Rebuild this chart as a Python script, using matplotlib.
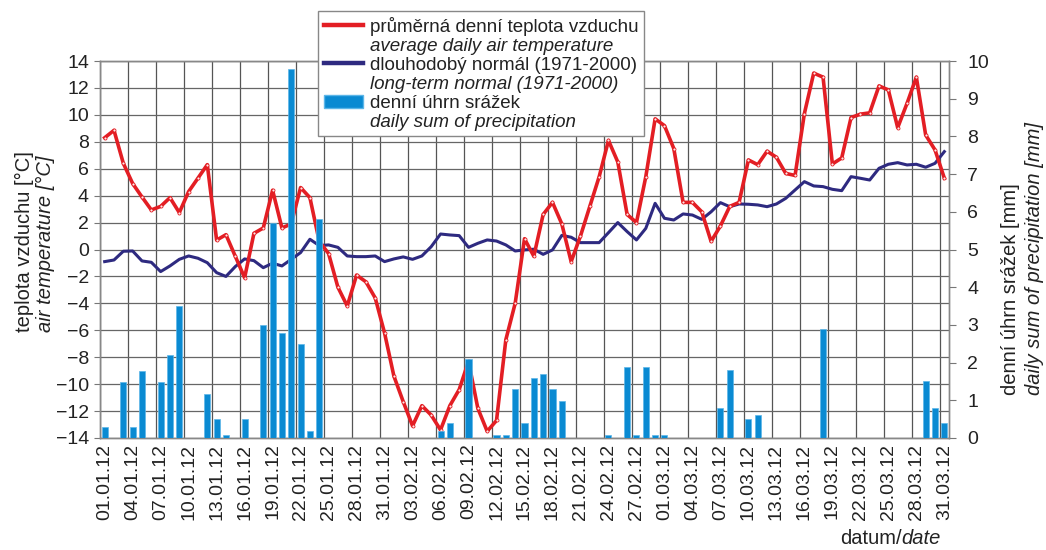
import numpy as np
import pandas as pd
import matplotlib
matplotlib.use("Agg")
import matplotlib.pyplot as plt
from matplotlib.lines import Line2D
from matplotlib.patches import Patch

# data (1.1.2012 - 31.3.2012)
dny = pd.date_range("2012-01-01", "2012-03-31", freq="D")

teplota = [8.3, 8.85, 6.4, 4.9, 3.9, 2.94, 3.2, 3.85, 2.74, 4.3,
           5.3, 6.3, 0.7, 1.1, -0.5, -2.1, 1.2, 1.6, 4.4, 1.6,
           1.9, 4.6, 3.85, 0.6, -0.3, -2.8, -4.2, -1.9, -2.4, -3.6,
           -6.2, -9.4, -11.3, -13.1, -11.6, -12.3, -13.4, -11.6, -10.4, -8.3,
           -11.8, -13.5, -12.7, -6.7, -4.0, 0.8, -0.5, 2.6, 3.5, 1.9,
           -0.9, 1.0, 3.2, 5.4, 8.1, 6.5, 2.6, 2.0, 5.4, 9.7,
           9.2, 7.5, 3.5, 3.5, 2.8, 0.6, 1.75, 3.2, 3.5, 6.65,
           6.3, 7.3, 6.85, 5.65, 5.5, 10.1, 13.1, 12.8, 6.35, 6.8,
           9.8, 10.05, 10.15, 12.15, 11.85, 9.05, 10.85, 12.8, 8.5, 7.4,
           5.3]

normal = [-0.9, -0.78, -0.13, -0.11, -0.85, -0.95, -1.64, -1.22, -0.73, -0.48,
          -0.65, -0.98, -1.72, -2.0, -1.27, -0.7, -0.83, -1.35, -1.02, -1.22,
          -0.73, -0.23, 0.76, 0.29, 0.34, 0.16, -0.48, -0.53, -0.53, -0.48,
          -0.9, -0.7, -0.55, -0.73, -0.48, 0.21, 1.15, 1.08, 1.03, 0.16,
          0.46, 0.71, 0.63, 0.34, -0.11, -0.03, 0.02, -0.36, -0.03, 1.05,
          0.91, 0.51, 0.51, 0.51, 1.25, 2.0, 1.33, 0.71, 1.57, 3.43,
          2.32, 2.19, 2.64, 2.56, 2.24, 2.8, 3.48, 3.18, 3.38, 3.36,
          3.31, 3.18, 3.38, 3.8, 4.42, 5.04, 4.72, 4.67, 4.47, 4.37,
          5.41, 5.29, 5.16, 6.03, 6.33, 6.45, 6.28, 6.33, 6.11, 6.4,
          7.27]

srazky = [0.28, 0, 1.49, 0.28, 1.79, 0, 1.49, 2.19, 3.5, 0,
          0, 1.18, 0.5, 0.08, 0, 0.5, 0, 2.99, 5.69, 2.79,
          9.8, 2.49, 0.19, 5.8, 0, 0, 0, 0, 0, 0,
          0, 0, 0, 0, 0, 0, 0.19, 0.39, 0, 2.09,
          0, 0, 0.08, 0.08, 1.29, 0.39, 1.58, 1.7, 1.29, 0.99,
          0, 0, 0, 0, 0.08, 0, 1.89, 0.08, 1.89, 0.08,
          0.08, 0, 0, 0, 0, 0, 0.8, 1.8, 0, 0.5,
          0.6, 0, 0, 0, 0, 0, 0, 2.9, 0, 0,
          0, 0, 0, 0, 0, 0, 0, 0, 1.5, 0.8,
          0.4]

popisky = [
    "průměrná denní teplota vzduchu", "average daily air temperature",
    "dlouhodobý normál (1971-2000)", "long-term normal (1971-2000)",
    "denní úhrn srážek", "daily sum of precipitation",
]

cervena = "#e31e24"
modra = "#2e2a80"
srazky_barva = "#0a8ad2"

plt.rcParams["font.family"] = ["Liberation Sans", "DejaVu Sans"]

fig = plt.figure(figsize=(10.46, 5.5), dpi=100)
ax = fig.add_axes([100 / 1046, 1 - 438 / 550, 849 / 1046, 377 / 550])
ax2 = ax.twinx()

x = np.arange(len(dny))

ax.plot(x, normal, color=modra, lw=2.2, zorder=3)
ax.plot(x, teplota, color=cervena, lw=2.6, zorder=4,
        marker="o", ms=2.2, mfc="#ffe6e6", mec=cervena, mew=0.6)
ax2.bar(x, srazky, width=0.65, color=srazky_barva, edgecolor="#5cb6e8",
        lw=0.5, zorder=3)

ax.set_xlim(-0.5, 90.5)
ax.set_ylim(-14, 14)
ax.set_yticks(np.arange(-14, 15, 2))
ax2.set_ylim(0, 10)
ax2.set_yticks(np.arange(0, 11, 1))

ax.set_xticks(x[::3])
ax.set_xticklabels([d.strftime("%d.%m.%y") for d in dny[::3]],
                   rotation=90, fontsize=14, color="#222")
ax.set_xticks(np.arange(-0.5, 91, 3), minor=True)
ax.tick_params(axis="x", which="both", length=0, pad=4)
ax.tick_params(axis="y", length=4, width=0.8, color="#777",
               labelsize=14, labelcolor="#222", pad=4)
ax2.tick_params(axis="y", length=5, width=0.8, color="#777",
                labelsize=14, labelcolor="#222", pad=8)

ax.set_axisbelow(True)
ax.grid(axis="x", which="minor", color="#555", lw=0.9)
ax.grid(axis="y", which="major", color="#666", lw=0.9)
ax.grid(axis="x", which="major", visible=False)

for a in (ax, ax2):
    for s in a.spines.values():
        s.set_color("#888")
        s.set_linewidth(1.0)

# osy - popisky
fig.text(24 / 1046, 1 - 332 / 550, "teplota vzduchu [°C]", rotation=90,
         ha="center", va="bottom", fontsize=14.5, color="#222")
fig.text(45 / 1046, 1 - 332 / 550, "air temperature [°C]", rotation=90,
         ha="center", va="bottom", fontsize=14.5, color="#222", style="italic")
fig.text(1010 / 1046, 1 - 395 / 550, "denní úhrn srážek [mm]", rotation=90,
         ha="center", va="bottom", fontsize=14.5, color="#222")
fig.text(1034 / 1046, 1 - 395 / 550, "daily sum of precipitation [mm]",
         rotation=90, ha="center", va="bottom", fontsize=14.5, color="#222",
         style="italic")

t_date = fig.text(941 / 1046, 1 - 538 / 550, "date", ha="right", va="center",
                  fontsize=14.5, color="#222", style="italic")
fig.canvas.draw()
bb = t_date.get_window_extent()
fig.text(bb.x0 / 1046, 1 - 538 / 550, "datum/", ha="right", va="center",
         fontsize=14.5, color="#222")

# legenda
prazdny = Line2D([], [], color="none")
handles = [Line2D([], [], color=cervena, lw=3.2), prazdny,
           Line2D([], [], color=modra, lw=3.2), prazdny,
           Patch(facecolor=srazky_barva, edgecolor="#5cb6e8"), prazdny]
leg = ax2.legend(handles, popisky, loc="upper left",
                 bbox_to_anchor=((318 - 100) / 849, (438 - 11) / 377),
                 borderaxespad=0, fontsize=13.5, labelspacing=0.1,
                 handlelength=2.1, handletextpad=0.35, borderpad=0.3,
                 frameon=True, fancybox=False, framealpha=1,
                 edgecolor="#888")
leg.get_frame().set_linewidth(1.0)
for i, t in enumerate(leg.get_texts()):
    t.set_color("#222")
    if i % 2 == 1:
        t.set_fontstyle("italic")

fig.savefig("out.png", dpi=100)
